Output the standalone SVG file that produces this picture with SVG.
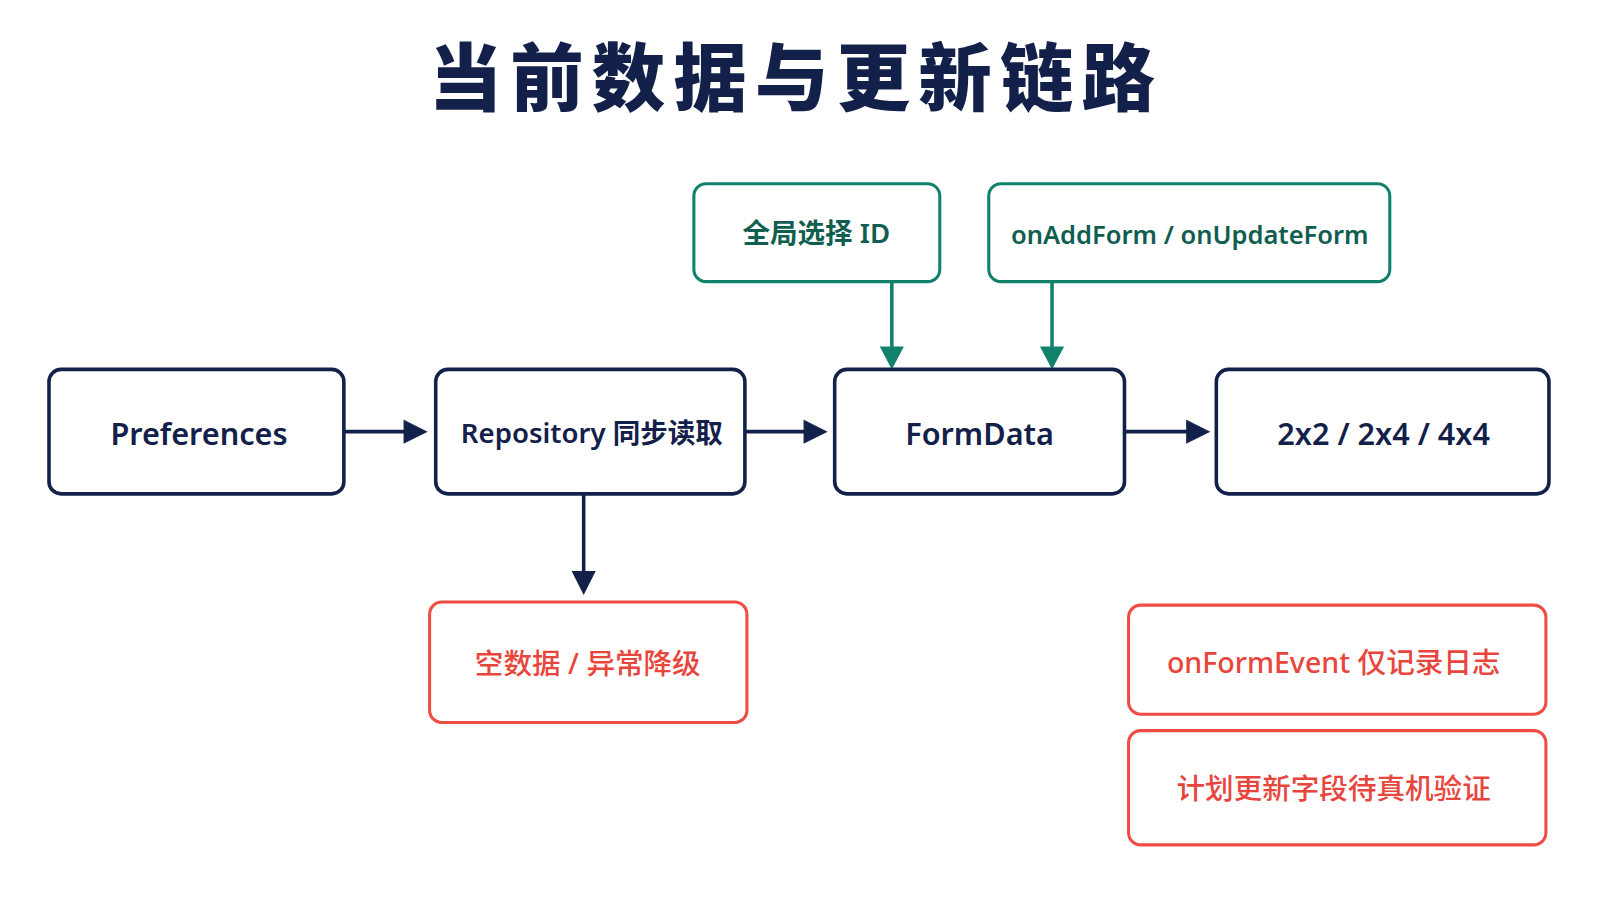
<svg xmlns="http://www.w3.org/2000/svg" width="1600" height="900" viewBox="0 0 1600 900">
<style>
text{font-family:"Noto Sans","Noto Sans CJK SC",sans-serif;text-anchor:middle;dominant-baseline:central}
.n rect{fill:#fff;stroke:#13204a;stroke-width:3.5}
.n text{fill:#13204a;font-size:30px;font-weight:600}
.t rect{fill:#fff;stroke:#12816c;stroke-width:3}
.t text{fill:#0f5e50;font-size:25px;font-weight:600}
.r rect{fill:#fff;stroke:#ef4c43;stroke-width:3}
.r text{fill:#e8453c;font-size:28px;font-weight:500}
.c line{stroke-width:3.5}
</style>
<rect width="1600" height="900" fill="#fff"/>
<g transform="scale(1.0204)">
<text x="780" y="75" style="font-size:72px;font-weight:900;fill:#13204a;letter-spacing:8px">当前数据与更新链路</text>
<g class="c">
<g stroke="#13204a" fill="#13204a">
<line x1="337" y1="423" x2="398" y2="423"/><path d="M396,412L418,423L396,434z"/>
<line x1="730" y1="423" x2="790" y2="423"/><path d="M788,412L810,423L788,434z"/>
<line x1="1102" y1="423" x2="1165" y2="423"/><path d="M1163,412L1185,423L1163,434z"/>
<line x1="572" y1="484" x2="572" y2="562"/><path d="M561,560L572,582L583,560z"/>
</g>
<g stroke="#12816c" fill="#12816c">
<line x1="874" y1="276" x2="874" y2="342"/><path d="M863,340L874,361L885,340z"/>
<line x1="1031" y1="276" x2="1031" y2="342"/><path d="M1020,340L1031,361L1042,340z"/>
</g>
</g>
<g id="preferences" class="n"><rect x="48" y="362" width="289" height="122" rx="12"/><text x="195" y="424">Preferences</text></g>
<g id="repository" class="n"><rect x="427" y="362" width="303" height="122" rx="12"/><text x="580" y="424" style="font-size:27px">Repository 同步读取</text></g>
<g id="formdata" class="n"><rect x="818" y="362" width="284" height="122" rx="12"/><text x="960" y="424">FormData</text></g>
<g id="sizes" class="n"><rect x="1192" y="362" width="326" height="122" rx="12"/><text x="1356" y="424">2x2 / 2x4 / 4x4</text></g>
<g id="global" class="t"><rect x="680" y="180" width="241" height="96" rx="12"/><text x="800" y="228" style="font-size:27px">全局选择 ID</text></g>
<g id="onadd" class="t"><rect x="969" y="180" width="393" height="96" rx="12"/><text x="1166" y="229">onAddForm / onUpdateForm</text></g>
<g id="empty" class="r"><rect x="421" y="590" width="311" height="118" rx="12"/><text x="576" y="649">空数据 / 异常降级</text></g>
<g id="event" class="r"><rect x="1106" y="593" width="409" height="107" rx="12"/><text x="1307" y="648">onFormEvent 仅记录日志</text></g>
<g id="plan" class="r"><rect x="1106" y="716" width="409" height="112" rx="12"/><text x="1307" y="772">计划更新字段待真机验证</text></g>
</g>
</svg>
